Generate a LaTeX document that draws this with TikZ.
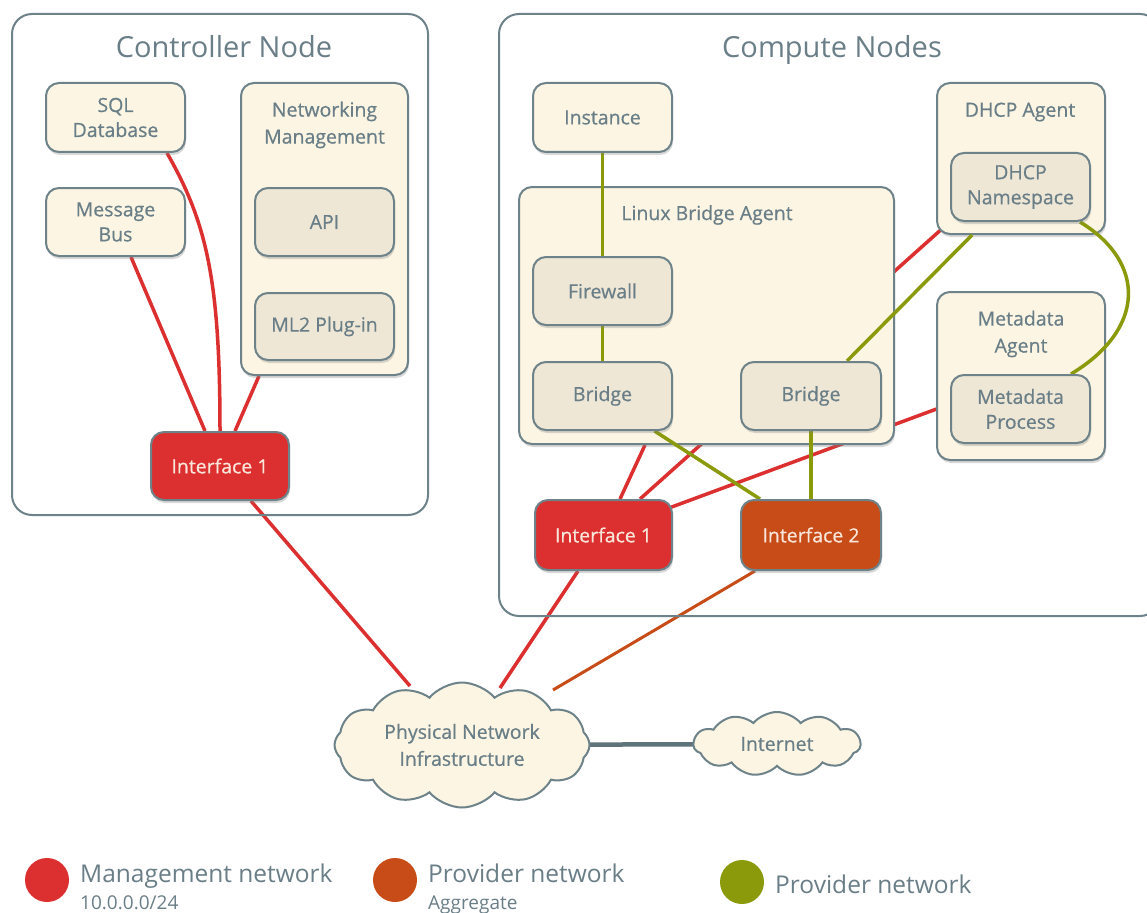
\documentclass[tikz,border=0pt]{standalone}
\usepackage{fontspec}
\setmainfont{Open Sans}
\usetikzlibrary{shapes.symbols,shadows,calc,backgrounds}
\definecolor{txt}{HTML}{6A7E87}
\definecolor{bord}{HTML}{6E8289}
\definecolor{cream}{HTML}{FCF5E3}
\definecolor{innerc}{HTML}{EEE7D6}
\definecolor{mred}{HTML}{DC3030}
\definecolor{porange}{HTML}{C84C17}
\definecolor{pgreen}{HTML}{8A9A0B}
\definecolor{lgray}{HTML}{5F737B}
\definecolor{iftxt}{HTML}{F8E6DA}
\newfontfamily\nodefont[FakeBold=0.6]{Open Sans}
\pgfdeclarelayer{boxes}
\pgfdeclarelayer{glines}
\pgfsetlayers{background,boxes,glines,main}
\tikzset{
  container/.style={draw=bord, line width=2pt, rounded corners=20pt, inner sep=0pt},
  box/.style={draw=bord, line width=2pt, rounded corners=13pt, fill=cream, text=txt,
    align=center, font=\nodefont\fontsize{19.5}{25}\selectfont, inner sep=0pt,
    drop shadow={opacity=0.3, shadow xshift=1pt, shadow yshift=-3pt}},
  inbox/.style={box, fill=innerc},
  ifbox/.style={box, text=iftxt},
  ttl/.style={text=txt, align=center, font=\nodefont\fontsize{19.5}{27}\selectfont},
  bigttl/.style={text=txt, anchor=base, font=\fontsize{29}{32}\selectfont},
  cloudbox/.style={cloud, cloud puffs=12, cloud puff arc=100, cloud ignores aspect, draw=bord, line width=2pt,
    fill=cream, text=txt, align=center, font=\nodefont\fontsize{19.5}{27}\selectfont, inner sep=0pt},
  mgmt/.style={draw=mred, line width=3.5pt},
  prov/.style={draw=porange, line width=3.5pt},
  provg/.style={draw=pgreen, line width=3.5pt},
  legtxt/.style={text=txt, anchor=base west, inner sep=0pt, font=\fontsize{24.5}{28}\selectfont},
  legsub/.style={text=txt, anchor=base west, inner sep=0pt, font=\fontsize{19}{20}\selectfont},
  legdot/.style={circle, minimum width=40pt, minimum height=44pt, inner sep=0pt},
}
\begin{document}
\begin{tikzpicture}[x=1pt,y=-1pt]
\useasboundingbox (0,0) rectangle (1147,912);
\clip (0,0) rectangle (1147,912);
% containers
\node[container, minimum width=416pt, minimum height=501pt] (ctl) at (220,264.5) {};
\node[bigttl] (ctltitle) at (224,58) {Controller Node};
\node[container, minimum width=661pt, minimum height=602pt] (cmp) at (829.5,315) {};
\node[bigttl] (cmptitle) at (832,58) {Compute Nodes};
% outer group boxes (below green connectors)
\begin{pgfonlayer}{boxes}
\node[box, minimum width=167pt, minimum height=292pt] (nm) at (324.5,229) {};
\node[box, minimum width=375pt, minimum height=257pt] (lba) at (706.5,315.5) {};
\node[box, minimum width=168pt, minimum height=151pt] (dhcpa) at (1021,158.5) {};
\node[box, minimum width=168pt, minimum height=168pt] (mda) at (1021,376) {};
\end{pgfonlayer}
\node[ttl] (nmtitle) at (324.5,125) {Networking\\Management};
\node[ttl] (lbatitle) at (707,215) {Linux Bridge Agent};
\node[ttl] (dhcpatitle) at (1020,112) {DHCP Agent};
\node[ttl] (mdatitle) at (1021,334) {Metadata\\Agent};
% controller nodes
\node[box, minimum width=139pt, minimum height=69pt] (sql) at (115.5,117.5) {SQL\\Database};
\node[box, minimum width=139pt, minimum height=68pt] (bus) at (115.5,222) {Message\\Bus};
\node[inbox, minimum width=139pt, minimum height=68pt] (api) at (324.5,222) {API};
\node[inbox, minimum width=139pt, minimum height=67pt] (ml2) at (324.5,326.5) {ML2 Plug-in};
\node[ifbox, fill=mred, minimum width=138pt, minimum height=68pt] (ctlif) at (220,466) {Interface 1};
% compute nodes
\node[box, minimum width=139pt, minimum height=69pt] (inst) at (602.5,117.5) {Instance};
\node[inbox, minimum width=139pt, minimum height=68pt] (fw) at (602.5,291) {Firewall};
\node[inbox, minimum width=139pt, minimum height=68pt] (br1) at (602.5,396) {Bridge};
\node[inbox, minimum width=140pt, minimum height=68pt] (br2) at (811,396) {Bridge};
\node[inbox, minimum width=139pt, minimum height=68pt] (dns) at (1020.5,187) {DHCP\\Namespace};
\node[inbox, minimum width=139pt, minimum height=68pt] (mp) at (1020.5,409) {Metadata\\Process};
\node[ifbox, fill=mred, minimum width=137pt, minimum height=70pt] (cif1) at (603.5,535) {Interface 1};
\node[ifbox, fill=porange, minimum width=140pt, minimum height=70pt] (if2) at (811,535) {Interface 2};
% clouds
\node[cloudbox, minimum width=255pt, minimum height=125pt] (phys) at (462,745) {Physical Network\\Infrastructure};
\node[cloudbox, cloud puffs=11, minimum width=167pt, minimum height=64pt] (inet) at (777,744) {Internet};
% management / aggregate connectors (under the boxes)
\begin{pgfonlayer}{background}
\fill[white] (0,0) rectangle (1147,912);
\draw[mgmt] ($(sql.south)+(51.5,0)$) .. controls +(40,70) and +(0,-150) .. (ctlif.north);
\draw[mgmt] ($(bus.south)+(15.5,0)$) -- ($(ctlif.north)+(-15,0)$);
\draw[mgmt] ($(nm.south west)+(19,0)$) -- ($(ctlif.north)+(15,0)$);
\draw[mgmt] ($(ctlif.south)+(31,0)$) -- ($(phys.center)+(-52,-59)$);
\draw[mgmt] ($(cif1.north)+(16.5,0)$) -- ($(lba.south)+(-61.5,0)$);
\draw[mgmt] ($(cif1.north)+(36.5,0)$) -- ($(dhcpa.south west)+(8,-8)$);
\draw[mgmt] ($(cif1.north east)+(-4,9)$) -- ($(mp.west)+(0,-5)$);
\draw[mgmt] ($(cif1.south)+(-25.5,0)$) -- ($(phys.center)+(38,-57)$);
\draw[prov, line width=3pt] ($(if2.south)+(-56,0)$) -- ($(phys.center)+(91,-55)$);
\draw[draw=lgray, line width=4.5pt] (phys.center) -- (inet.center);
\end{pgfonlayer}
% provider connectors (over the group boxes)
\begin{pgfonlayer}{glines}
\draw[provg] (inst.south) -- (fw.north);
\draw[provg] (fw.south) -- (br1.north);
\draw[provg] ($(br1.south)+(52,0)$) -- ($(if2.north)+(-51,0)$);
\draw[provg] (br2.south) -- (if2.north);
\draw[provg] ($(br2.north)+(36,0)$) -- ($(dhcpa.south)+(-49,0)$);
\draw[provg] ($(dns.south east)+(-11,0)$) .. controls +(66,40) and +(75,-45) .. ($(mp.north east)+(-20,0)$);
\end{pgfonlayer}
% legend
\node[legdot, fill=mred] (lg1) at (47,880) {};
\node[legtxt] (lg1t) at (80,882) {Management network};
\node[legsub] (lg1s) at (80,909) {10.0.0.0/24};
\node[legdot, fill=porange] (lg2) at (395,880) {};
\node[legtxt] (lg2t) at (428,882) {Provider network};
\node[legsub] (lg2s) at (428,909) {Aggregate};
\node[legdot, fill=pgreen] (lg3) at (742,882) {};
\node[legtxt] (lg3t) at (775,893) {Provider network};
\end{tikzpicture}
\end{document}
